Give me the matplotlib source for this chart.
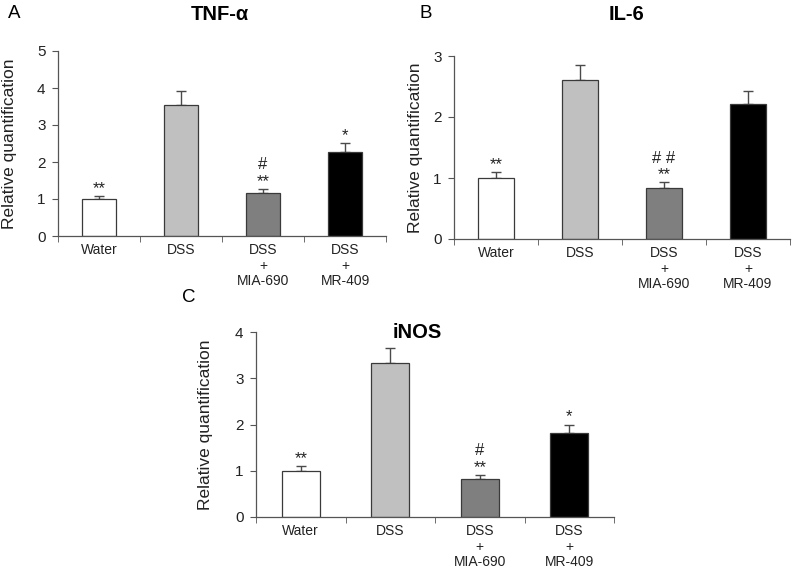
import matplotlib
matplotlib.use("Agg")
import matplotlib.pyplot as plt
import numpy as np

plt.rcParams["font.family"] = ["Liberation Sans", "DejaVu Sans"]

groups = ["Water", "DSS", "DSS\n+\nMIA-690", "DSS\n+\nMR-409"]
bar_colors = ["#ffffff", "#c0c0c0", "#7f7f7f", "#000000"]

# means and upper error bars
tnf_mean = [1.0, 3.54, 1.16, 2.27]
tnf_err = [0.09, 0.39, 0.11, 0.24]
tnf_marks = [["**"], [], ["**", "#"], ["*"]]

il6_mean = [1.0, 2.60, 0.84, 2.22]
il6_err = [0.10, 0.26, 0.09, 0.21]
il6_marks = [["**"], [], ["**", "# #"], []]

inos_mean = [1.0, 3.32, 0.83, 1.82]
inos_err = [0.10, 0.33, 0.08, 0.18]
inos_marks = [["**"], [], ["**", "#"], ["*"]]

W, H = 792, 571
fig = plt.figure(figsize=(W / 100, H / 100), dpi=100)

def px_axes(x0, y0, x1, y1):
    # pixel box (left, top, right, bottom) -> figure axes
    return fig.add_axes([x0 / W, 1 - y1 / H, (x1 - x0) / W, (y1 - y0) / H])

def panel(ax, mean, err, marks, ymax, label_x):
    x = np.arange(len(groups))
    ax.bar(x, mean, width=0.42, color=bar_colors, edgecolor="#3a3a3a", linewidth=0.9, zorder=2)
    ax.errorbar(x, mean, yerr=[np.zeros(len(err)), err], fmt="none",
                ecolor="#4a4a4a", elinewidth=1.0, capsize=3.5, capthick=1.0, zorder=1)
    for xi, m, e, mk in zip(x, mean, err, marks):
        off = 0
        for s in mk:
            ax.annotate(s, (xi, m + e), xytext=(0, off), textcoords="offset points",
                        ha="center", va="bottom", fontsize=12, color="#222222")
            off += 12
    ax.set_xlim(-0.5, 3.5)
    ax.set_ylim(0, ymax)
    ax.set_yticks(range(ymax + 1))
    ax.set_xticks(x)
    ax.set_xticklabels(groups, fontsize=10, color="#222222", linespacing=1.15)
    ax.set_xticks(np.arange(-0.5, 4.0, 1.0), minor=True)
    ax.tick_params(axis="x", which="major", length=0, pad=5)
    ax.tick_params(axis="x", which="minor", length=4, color="#555555", direction="out")
    ax.tick_params(axis="y", length=4, color="#555555", labelsize=11, labelcolor="#222222", pad=5)
    for s in ["top", "right"]:
        ax.spines[s].set_visible(False)
    for s in ["left", "bottom"]:
        ax.spines[s].set_color("#555555")
        ax.spines[s].set_linewidth(0.9)
    ax.set_ylabel("Relative quantification", fontsize=12.5, color="#222222")
    # label_x is the right edge of the rotated label, in pixels
    pos = ax.get_position()
    ax.yaxis.set_label_coords((label_x - pos.x0 * W) / (pos.width * W), 0.5)

ax_a = px_axes(58, 51, 386, 236)
panel(ax_a, tnf_mean, tnf_err, tnf_marks, 5, 17)
ax_b = px_axes(454, 56, 790, 239)
panel(ax_b, il6_mean, il6_err, il6_marks, 3, 423)
ax_c = px_axes(256, 332, 614, 517)
panel(ax_c, inos_mean, inos_err, inos_marks, 4, 213)

fig.text(220 / W, 1 - 14 / H, "TNF-α", fontsize=14.5, fontweight="bold", ha="center", va="center")
fig.text(627 / W, 1 - 14 / H, "IL-6", fontsize=14.5, fontweight="bold", ha="center", va="center")
fig.text(417 / W, 1 - 333 / H, "iNOS", fontsize=14.5, fontweight="bold", ha="center", va="center")

fig.text(8 / W, 1 - 13 / H, "A", fontsize=13.5, ha="left", va="center")
fig.text(419 / W, 1 - 13 / H, "B", fontsize=13.5, ha="left", va="center")
fig.text(182 / W, 1 - 297 / H, "C", fontsize=13.5, ha="left", va="center")

fig.savefig("out.png", dpi=100)
